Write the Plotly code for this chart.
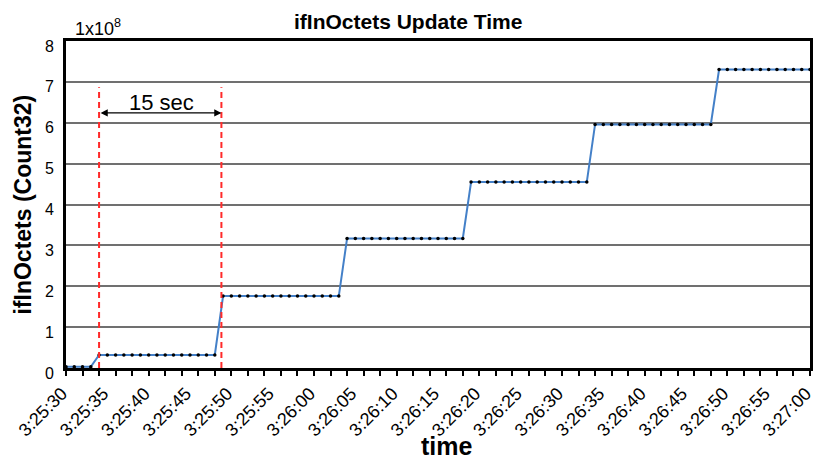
import plotly.graph_objects as go
import pandas as pd

# sample times: one sample per second from 3:25:30 to 3:27:00
start_time = "2024-01-01 03:25:30"
end_time = "2024-01-01 03:27:00"
times = pd.date_range(start_time, end_time, freq="1s")

# ifInOctets values (x 1e8), one per second
octets = [
    0.03, 0.03, 0.03, 0.03,
    0.32, 0.32, 0.32, 0.32, 0.32, 0.32, 0.32, 0.32, 0.32, 0.32, 0.32, 0.32, 0.32, 0.32, 0.32,
    1.76, 1.76, 1.76, 1.76, 1.76, 1.76, 1.76, 1.76, 1.76, 1.76, 1.76, 1.76, 1.76, 1.76, 1.76,
    3.17, 3.17, 3.17, 3.17, 3.17, 3.17, 3.17, 3.17, 3.17, 3.17, 3.17, 3.17, 3.17, 3.17, 3.17,
    4.55, 4.55, 4.55, 4.55, 4.55, 4.55, 4.55, 4.55, 4.55, 4.55, 4.55, 4.55, 4.55, 4.55, 4.55,
    5.96, 5.96, 5.96, 5.96, 5.96, 5.96, 5.96, 5.96, 5.96, 5.96, 5.96, 5.96, 5.96, 5.96, 5.96,
    7.30, 7.30, 7.30, 7.30, 7.30, 7.30, 7.30, 7.30, 7.30, 7.30, 7.30, 7.30,
]

tick_labels = ["3:25:30", "3:25:35", "3:25:40", "3:25:45", "3:25:50", "3:25:55",
               "3:26:00", "3:26:05", "3:26:10", "3:26:15", "3:26:20", "3:26:25",
               "3:26:30", "3:26:35", "3:26:40", "3:26:45", "3:26:50", "3:26:55",
               "3:27:00"]
tick_vals = ["2024-01-01 0" + t for t in tick_labels]

y_ticks = [0, 1, 2, 3, 4, 5, 6, 7, 8]

# 15 sec interval markers
interval_start = "2024-01-01 03:25:34"
interval_end = "2024-01-01 03:25:48.8"
interval_label_x = "2024-01-01 03:25:41.6"
interval_top = 6.87
arrow_y = 6.24
label_y = 6.50

FONT = "Liberation Sans, Arial, sans-serif"

fig = go.Figure()
fig.add_trace(go.Scatter(
    x=times, y=octets, mode="lines+markers",
    line=dict(color="#4480c8", width=2),
    marker=dict(color="black", size=3.5),
    showlegend=False, hoverinfo="skip",
))

for t in (interval_start, interval_end):
    fig.add_trace(go.Scatter(
        x=[t, t], y=[0, interval_top], mode="lines",
        line=dict(color="#ff2a2a", width=2, dash="6px,4px"),
        showlegend=False, hoverinfo="skip",
    ))

fig.add_annotation(x=interval_end, y=arrow_y, ax=interval_start, ay=arrow_y,
                   xref="x", yref="y", axref="x", ayref="y",
                   showarrow=True, arrowhead=2, startarrowhead=2, arrowside="end+start",
                   arrowsize=1.1, startarrowsize=1.1, arrowwidth=1.3,
                   arrowcolor="black", text="")
fig.add_annotation(x=interval_label_x, y=label_y, xref="x", yref="y",
                   xanchor="center", yanchor="middle",
                   text="15 sec", showarrow=False,
                   font=dict(family=FONT, size=22, color="black"))

fig.add_annotation(x=0.009, y=1.0, xref="paper", yref="paper", xanchor="left", yanchor="bottom",
                   yshift=0, text="1x10<sup>8</sup>", showarrow=False,
                   font=dict(family=FONT, size=18, color="black"))
fig.add_annotation(x=0.4603, y=1.0, xref="paper", yref="paper", xanchor="center", yanchor="middle",
                   yshift=20, text="<b>ifInOctets Update Time</b>", showarrow=False,
                   font=dict(family=FONT, size=21, color="black"))
fig.add_annotation(x=-0.0591, y=0.5, xref="paper", yref="paper", textangle=-90,
                   xanchor="center", yanchor="middle",
                   text="<b>ifInOctets (Count32)</b>", showarrow=False,
                   font=dict(family=FONT, size=23, color="black"))
fig.add_annotation(x=0.5117, y=0, xref="paper", yref="paper", xanchor="center", yanchor="middle",
                   yshift=-78, text="<b>time</b>", showarrow=False,
                   font=dict(family=FONT, size=25, color="black"))

fig.update_layout(
    width=815, height=460,
    margin=dict(l=66, r=5, t=41, b=92, autoexpand=False),
    paper_bgcolor="white", plot_bgcolor="white",
    font=dict(family=FONT, color="black"),
    xaxis=dict(
        type="date", automargin=False,
        range=[start_time, end_time],
        tickvals=tick_vals, ticktext=tick_labels, tickangle=-45,
        ticks="", tickfont=dict(family=FONT, size=18, color="black"),
        ticklabeloverflow="allow", ticklabelshift=-4, ticklabelstandoff=5,
        showgrid=False, zeroline=False,
        showline=True, linecolor="black", linewidth=3, mirror=True,
        minor=dict(dtick=2000, ticks="outside", ticklen=5, tickwidth=1.5,
                   tickcolor="black", showgrid=False),
    ),
    yaxis=dict(
        automargin=False,
        range=[0, 8], tickvals=y_ticks, ticks="",
        tickfont=dict(family=FONT, size=16, color="black"),
        ticklabelshift=5, ticklabelstandoff=6,
        showgrid=True, gridcolor="#707070", gridwidth=1.5, zeroline=False,
        showline=True, linecolor="black", linewidth=3, mirror=True,
    ),
)

# remove the browser's default 8px page margin so the 815x460 figure fills the window
fig.write_html("out.html",
               config={"displayModeBar": False},
               post_script="document.body.style.margin='0';document.body.style.overflow='hidden';")
